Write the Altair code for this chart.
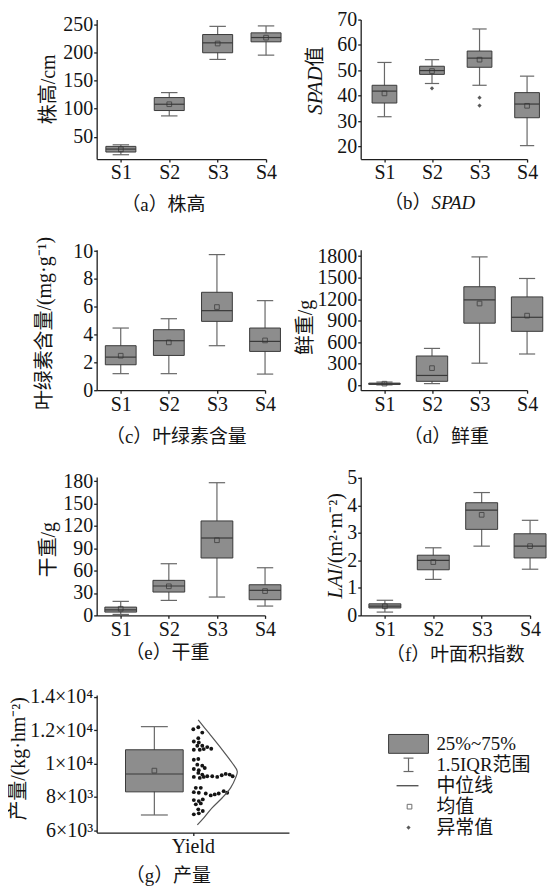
import json
import altair as alt
import pandas as pd

SERIF = "Liberation Serif, Noto Sans CJK SC"
INK = "#141414"
BOX_FILL = "#8d8d8d"
BOX_EDGE = "#3a3a3a"
WHISK = "#686868"
TSIZE = 20

cats = ["S1", "S2", "S3", "S4"]
cat_pos = [1, 2, 3, 4]

# (a) 株高 / cm
height_lo = [18.5, 87.3, 187.4, 195.0]
height_q1 = [23.3, 96.8, 199.2, 218.6]
height_med = [28.5, 108.0, 216.8, 226.2]
height_mean = [28.0, 108.0, 215.6, 226.0]
height_q3 = [33.3, 119.8, 231.5, 234.5]
height_hi = [36.1, 128.6, 246.0, 246.8]
height_ticks = [50, 100, 150, 200, 250]

# (b) SPAD
spad_lo = [31.7, 44.8, 44.1, 20.3]
spad_q1 = [37.1, 48.4, 51.2, 31.3]
spad_med = [41.8, 49.9, 54.8, 36.7]
spad_mean = [40.9, 49.7, 54.2, 36.0]
spad_q3 = [44.1, 51.6, 57.6, 41.2]
spad_hi = [53.1, 54.2, 66.3, 47.7]
spad_out_pos = [2, 3, 3]
spad_out_val = [42.9, 39.2, 36.1]
spad_ticks = [20, 30, 40, 50, 60, 70]

# (c) 叶绿素含量
chl_lo = [1.19, 1.19, 3.20, 1.16]
chl_q1 = [1.83, 2.50, 4.95, 2.79]
chl_med = [2.38, 3.56, 5.72, 3.51]
chl_mean = [2.48, 3.44, 5.98, 3.58]
chl_q3 = [3.20, 4.35, 7.04, 4.47]
chl_hi = [4.47, 5.14, 9.75, 6.44]
chl_ticks = [0, 2, 4, 6, 8, 10]

# (d) 鲜重
fresh_lo = [5, 23, 308, 436]
fresh_q1 = [12, 55, 866, 752]
fresh_med = [20, 137, 1191, 948]
fresh_mean = [22, 239, 1140, 971]
fresh_q3 = [30, 408, 1374, 1232]
fresh_hi = [45, 514, 1790, 1489]
fresh_ticks = [0, 300, 600, 900, 1200, 1500, 1800]

# (e) 干重
dry_lo = [1.3, 20.1, 24.6, 12.5]
dry_q1 = [4.4, 31.3, 77.0, 21.0]
dry_med = [7.5, 39.4, 103.8, 33.6]
dry_mean = [8.9, 39.0, 100.8, 32.6]
dry_q3 = [11.1, 47.0, 126.7, 41.1]
dry_hi = [18.8, 69.3, 178.0, 63.9]
dry_ticks = [0, 30, 60, 90, 120, 150, 180]

# (f) LAI
lai_lo = [0.12, 1.31, 2.52, 1.68]
lai_q1 = [0.27, 1.66, 3.13, 2.09]
lai_med = [0.34, 2.00, 3.83, 2.52]
lai_mean = [0.33, 1.94, 3.66, 2.52]
lai_q3 = [0.42, 2.19, 4.10, 2.97]
lai_hi = [0.55, 2.46, 4.47, 3.46]
lai_ticks = [0, 1, 2, 3, 4, 5]

# (g) 产量
yield_stats = {"lo": 6911, "q1": 8298, "med": 9369, "mean": 9571, "q3": 10821, "hi": 12208}
yield_ticks = [6000, 8000, 10000, 12000, 14000]
yield_tick_labels = ["6×10³", "8×10³", "1×10⁴", "1.2×10⁴", "1.4×10⁴"]
yield_points = [12052, 12171, 11853, 11516, 11317, 11258, 11060, 11060, 10980, 10881,
                10821, 10821, 10861, 10226, 10266, 9929, 9869, 9671, 9591, 9730,
                9433, 9333, 9234, 9234, 9194, 9294, 9373, 9333, 9234, 9194,
                9135, 9194, 8540, 8540, 8282, 8242, 8202, 8083, 8143, 8202,
                8341, 8242, 7806, 7746, 7845, 7548, 7607, 7250, 7151, 6952, 7012]
yield_point_col = [0, 1, 1.8, 1, 0.1, 1.1, 0.8, 1.8, 2.8, 3.6,
                   0.1, 1.3, 2.1, 0.1, 1, 0.8, 1.8, 0.1, 1.1, 2.3,
                   1, 1.8, 2.8, 3.8, 4.8, 5.7, 6.5, 7.3, 7.9, 0.1,
                   1.3, 2.1, 0.5, 1.5, 0.1, 1.1, 2.5, 3.5, 4.3, 5.1,
                   6.1, 6.8, 0.1, 1.1, 1.9, 0.5, 1.5, 1, 1.9, 0.1, 1.1]
curve_values = [12607, 11813, 10821, 10028, 9532, 9135, 8540, 7944, 7349, 6754, 6317]
curve_density = [0.06, 0.32, 0.64, 0.88, 1.0, 0.96, 0.84, 0.64, 0.40, 0.20, 0.04]

legend_labels = ["25%~75%", "1.5IQR范围", "中位线", "均值", "异常值"]

CAT_EXPR = json.dumps(cats) + "[datum.value - 1]"


def txt(s, x, y, size=19, angle=0, align="center", italic=False):
    return alt.Chart(pd.DataFrame({"t": [s]})).mark_text(
        angle=angle, align=align, baseline="middle", font=SERIF, fontSize=size,
        fontStyle="italic" if italic else "normal", color=INK,
    ).encode(text="t:N", x=alt.value(x), y=alt.value(y))


def box_layers(df, xs, ys, xax, yax, hw, caphw):
    def X(f):
        return alt.X(f, type="quantitative", scale=xs, axis=xax)

    def Y(f):
        return alt.Y(f, type="quantitative", scale=ys, axis=yax)

    base = alt.Chart(df).transform_calculate(
        bl=f"datum.pos - {hw}", br=f"datum.pos + {hw}",
        cl=f"datum.pos - {caphw}", cr=f"datum.pos + {caphw}")
    whisk = base.mark_rule(color=WHISK, strokeWidth=1.2).encode(x=X("pos"), y=Y("lo"), y2="hi")
    cap_lo = base.mark_rule(color=WHISK, strokeWidth=1.2).encode(x=X("cl"), x2="cr", y=Y("lo"))
    cap_hi = base.mark_rule(color=WHISK, strokeWidth=1.2).encode(x=X("cl"), x2="cr", y=Y("hi"))
    box = base.mark_rect(fill=BOX_FILL, stroke=BOX_EDGE, strokeWidth=1).encode(
        x=X("bl"), x2="br", y=Y("q1"), y2="q3")
    med = base.mark_rule(color=BOX_EDGE, strokeWidth=1.2).encode(x=X("bl"), x2="br", y=Y("med"))
    mean = base.mark_point(shape="square", filled=False, size=22, color="#333333",
                           strokeWidth=1).encode(x=X("pos"), y=Y("mean"))
    return [whisk, cap_lo, cap_hi, box, med, mean], X, Y


def cat_panel(lo, q1, med, mean, q3, hi, ydom, yticks, w, h, hw, caphw, texts,
              out_pos=None, out_val=None):
    df = pd.DataFrame({"pos": cat_pos, "lo": lo, "q1": q1, "med": med,
                       "mean": mean, "q3": q3, "hi": hi})
    xs = alt.Scale(domain=[0.5, 4.0], nice=False, zero=False)
    ys = alt.Scale(domain=ydom, nice=False, zero=False)
    xax = alt.Axis(values=cat_pos, labelExpr=CAT_EXPR, title=None)
    yax = alt.Axis(values=yticks, format="d", title=None)
    layers, X, Y = box_layers(df, xs, ys, xax, yax, hw, caphw)
    if out_pos is not None:
        odf = pd.DataFrame({"pos": out_pos, "v": out_val})
        layers.append(alt.Chart(odf).mark_point(shape="diamond", filled=True, size=18,
                                                color=INK).encode(x=X("pos"), y=Y("v")))
    layers += texts
    return alt.layer(*layers).properties(width=w, height=h)


pa = cat_panel(height_lo, height_q1, height_med, height_mean, height_q3, height_hi,
               [10.8, 258], height_ticks, 170, 140, 0.31, 0.17,
               [txt("株高/cm", -48, 70, size=TSIZE, angle=270), txt("（a）株高", 67, 186)])

pb = cat_panel(spad_lo, spad_q1, spad_med, spad_mean, spad_q3, spad_hi,
               [15, 70], spad_ticks, 167, 140, 0.26, 0.15,
               [txt("SPAD", -45, 47, size=21, angle=270, align="right", italic=True),
                txt("值", -45, 47, size=TSIZE, angle=270, align="left"),
                txt("（b）", 71, 184, align="right"),
                txt("SPAD", 71, 184, align="left", italic=True)],
               spad_out_pos, spad_out_val)

pc = cat_panel(chl_lo, chl_q1, chl_med, chl_mean, chl_q3, chl_hi,
               [0, 10.1], chl_ticks, 169, 141, 0.32, 0.17,
               [txt("叶绿素含量/(mg·g⁻¹)", -52, 74, size=TSIZE, angle=270),
                txt("（c）叶绿素含量", 80, 188)])

pd_ = cat_panel(fresh_lo, fresh_q1, fresh_med, fresh_mean, fresh_q3, fresh_hi,
                [-69, 1890], fresh_ticks, 167, 141, 0.33, 0.17,
                [txt("鲜重/g", -55, 78, size=TSIZE, angle=270), txt("（d）鲜重", 86, 188)])

pe = cat_panel(dry_lo, dry_q1, dry_med, dry_mean, dry_q3, dry_hi,
               [0, 185.8], dry_ticks, 169, 139, 0.33, 0.17,
               [txt("干重/g", -48, 73, size=TSIZE, angle=270), txt("（e）干重", 71, 177)])

pf = cat_panel(lai_lo, lai_q1, lai_med, lai_mean, lai_q3, lai_hi,
               [0, 5.04], lai_ticks, 170, 139, 0.33, 0.17,
               [txt("LAI", -25, 92, size=TSIZE, angle=270, align="right", italic=True),
                txt("/(m²·m⁻²)", -25, 92, size=TSIZE, angle=270, align="left"),
                txt("（f）叶面积指数", 95, 179)])

# (g) yield panel
ydf = pd.DataFrame({"pos": [0.3], **{k: [v] for k, v in yield_stats.items()}})
gxs = alt.Scale(domain=[0, 1], nice=False, zero=False)
gys = alt.Scale(domain=[5857, 14100], nice=False, zero=False)
g_expr = " : ".join(f"datum.value == {v} ? '{s}'" for v, s in zip(yield_ticks, yield_tick_labels)) + " : ''"
gxax = alt.Axis(values=[0.5], labelExpr="'Yield'", title=None)
gyax = alt.Axis(values=yield_ticks, labelExpr=g_expr, title=None)
g_layers, GX, GY = box_layers(ydf, gxs, gys, gxax, gyax, 0.15, 0.07)
pts = alt.Chart(pd.DataFrame({"v": yield_points, "col": yield_point_col})).transform_calculate(
    px="0.5026 + datum.col * 0.0259").mark_circle(size=15, color=INK, opacity=1).encode(
    x=GX("px"), y=GY("v"))
curve = alt.Chart(pd.DataFrame({"v": curve_values, "d": curve_density})).transform_calculate(
    px="0.515 + datum.d * 0.216").mark_line(color="#555555", strokeWidth=1.2,
                                            interpolate="catmull-rom").encode(
    x=GX("px"), y=GY("v"), order=alt.Order("v:Q"))
pg = alt.layer(*g_layers, pts, curve,
               txt("产量/(kg·hm⁻²)", -78, 64, size=TSIZE, angle=270),
               txt("（g）产量", 72, 182)).properties(width=193, height=138)

# legend panel
ldf = pd.DataFrame({"label": legend_labels, "idx": list(range(len(legend_labels)))})
lys = alt.Scale(domain=[-2.333, 4.238], reverse=True, nice=False, zero=False)


def LY(f):
    return alt.Y(f, type="quantitative", scale=lys, axis=None)


lbase = alt.Chart(ldf)
leg_box = lbase.transform_filter("datum.idx == 0").transform_calculate(
    a="datum.idx - 0.45", b="datum.idx + 0.45").mark_rect(
    fill=BOX_FILL, stroke=BOX_EDGE, strokeWidth=1).encode(
    x=alt.value(28), x2=alt.value(68), y=LY("a"), y2="b")
leg_wh = lbase.transform_filter("datum.idx == 1").transform_calculate(
    a="datum.idx - 0.32", b="datum.idx + 0.32").mark_rule(color=WHISK, strokeWidth=1.2).encode(
    x=alt.value(48), y=LY("a"), y2="b")
leg_wc1 = lbase.transform_filter("datum.idx == 1").transform_calculate(
    a="datum.idx - 0.32").mark_rule(color=WHISK, strokeWidth=1.2).encode(
    x=alt.value(43), x2=alt.value(53), y=LY("a"))
leg_wc2 = lbase.transform_filter("datum.idx == 1").transform_calculate(
    a="datum.idx + 0.32").mark_rule(color=WHISK, strokeWidth=1.2).encode(
    x=alt.value(43), x2=alt.value(53), y=LY("a"))
leg_med = lbase.transform_filter("datum.idx == 2").mark_rule(color=BOX_EDGE, strokeWidth=1.2).encode(
    x=alt.value(36), x2=alt.value(58), y=LY("idx"))
leg_mean = lbase.transform_filter("datum.idx == 3").mark_point(
    shape="square", filled=False, size=22, color="#333333", strokeWidth=1).encode(
    x=alt.value(49), y=LY("idx"))
leg_out = lbase.transform_filter("datum.idx == 4").mark_point(
    shape="diamond", filled=True, size=18, color=INK).encode(x=alt.value(48), y=LY("idx"))
leg_txt = lbase.mark_text(align="left", baseline="middle", font=SERIF, fontSize=19,
                          color=INK).encode(x=alt.value(76), y=LY("idx"), text="label:N")
legend = alt.layer(leg_box, leg_wh, leg_wc1, leg_wc2, leg_med, leg_mean, leg_out,
                   leg_txt).properties(width=170, height=138)

chart = alt.concat(pa, pb, pc, pd_, pe, pf, pg, legend, columns=2, align="each",
                   spacing={"row": 21, "column": 7}).properties(
    padding={"left": 1, "top": 0, "right": 0, "bottom": 0}
).configure_axis(
    labelFont="Liberation Serif", labelFontSize=20, labelColor=INK,
    domainColor="#1e1e1e", tickColor="#1e1e1e", domainWidth=1.3, tickWidth=1.3,
    tickSize=3, labelPadding=1, grid=False, labelOverlap=False, labelFlush=False,
).configure_view(stroke=None)

chart.save("out.html", embed_options={"renderer": "svg", "actions": False})
